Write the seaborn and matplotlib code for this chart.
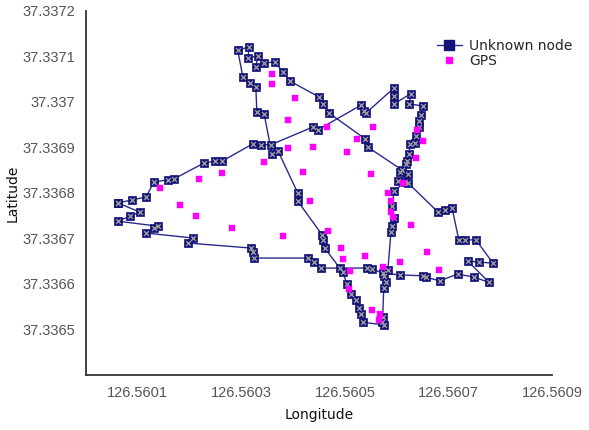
import matplotlib
matplotlib.use("Agg")
import matplotlib.pyplot as plt
import seaborn as sns
import pandas as pd
from matplotlib.lines import Line2D

# Unknown node track, in drawing order (star shaped walk)
node_lon = [126.560062, 126.560089, 126.560116, 126.560131, 126.560158, 126.560170,
            126.560228, 126.560249, 126.560263, 126.560322, 126.560338, 126.560357,
            126.560438, 126.560448, 126.560531, 126.560537, 126.560541, 126.560595,
            126.560595, 126.560595, 126.560627, 126.560624, 126.560651, 126.560647,
            126.560643, 126.560643, 126.560637, 126.560635, 126.560626, 126.560624,
            126.560620, 126.560618, 126.560606, 126.560622, 126.560602, 126.560616,
            126.560595, 126.560591, 126.560595, 126.560591, 126.560589, 126.560583,
            126.560575, 126.560579, 126.560575, 126.560573, 126.560571, 126.560575,
            126.560535, 126.560531, 126.560527, 126.560521, 126.560512, 126.560504,
            126.560496, 126.560461, 126.560458, 126.560456, 126.560409, 126.560409,
            126.560371, 126.560359, 126.560344, 126.560330, 126.560328, 126.560317,
            126.560303, 126.560293, 126.560315, 126.560313, 126.560332, 126.560328,
            126.560344, 126.560365, 126.560380, 126.560394, 126.560450, 126.560458,
            126.560469, 126.560539, 126.560544, 126.560610, 126.560622, 126.560680,
            126.560693, 126.560707, 126.560720, 126.560732, 126.560753, 126.560786,
            126.560759, 126.560737, 126.560778, 126.560749, 126.560718, 126.560683,
            126.560656, 126.560651, 126.560606, 126.560573, 126.560552, 126.560542,
            126.560490, 126.560454, 126.560440, 126.560429, 126.560324, 126.560322,
            126.560319, 126.560197, 126.560207, 126.560116, 126.560131, 126.560139,
            126.560062, 126.560085, 126.560104, 126.560062]
node_lat = [37.336778, 37.336785, 37.336791, 37.336824, 37.336829, 37.336831,
            37.336866, 37.336870, 37.336870, 37.336908, 37.336906, 37.336906,
            37.336945, 37.336939, 37.336993, 37.336980, 37.336976, 37.337031,
            37.337013, 37.336996, 37.337018, 37.336996, 37.336991, 37.336971,
            37.336958, 37.336945, 37.336925, 37.336910, 37.336908, 37.336886,
            37.336870, 37.336864, 37.336846, 37.336842, 37.336826, 37.336824,
            37.336804, 37.336771, 37.336745, 37.336727, 37.336714, 37.336631,
            37.336618, 37.336604, 37.336591, 37.336527, 37.336516, 37.336510,
            37.336516, 37.336534, 37.336547, 37.336565, 37.336578, 37.336600,
            37.336626, 37.336679, 37.336697, 37.336708, 37.336782, 37.336800,
            37.336892, 37.336886, 37.336974, 37.336978, 37.337033, 37.337042,
            37.337055, 37.337114, 37.337121, 37.337097, 37.337101, 37.337077,
            37.337086, 37.337088, 37.337066, 37.337046, 37.337011, 37.336996,
            37.336976, 37.336919, 37.336901, 37.336851, 37.336822, 37.336758,
            37.336763, 37.336767, 37.336697, 37.336697, 37.336697, 37.336646,
            37.336648, 37.336651, 37.336604, 37.336615, 37.336622, 37.336607,
            37.336615, 37.336618, 37.336620, 37.336624, 37.336633, 37.336635,
            37.336635, 37.336635, 37.336648, 37.336657, 37.336657, 37.336670,
            37.336679, 37.336690, 37.336701, 37.336712, 37.336723, 37.336727,
            37.336738, 37.336749, 37.336758, 37.336778]

# GPS fixes
gps_lon = [126.560143, 126.560181, 126.560212, 126.560218, 126.560263, 126.560282,
           126.560344, 126.560359, 126.560359, 126.560380, 126.560390, 126.560390,
           126.560403, 126.560419, 126.560432, 126.560438, 126.560465, 126.560467,
           126.560492, 126.560496, 126.560504, 126.560508, 126.560510, 126.560523,
           126.560539, 126.560550, 126.560554, 126.560552, 126.560568, 126.560566,
           126.560573, 126.560583, 126.560589, 126.560589, 126.560593, 126.560606,
           126.560612, 126.560627, 126.560637, 126.560639, 126.560651, 126.560658,
           126.560682]
gps_lat = [37.336811, 37.336774, 37.336749, 37.336831, 37.336844, 37.336723,
           37.336868, 37.337062, 37.337040, 37.336706, 37.336960, 37.336899,
           37.337009, 37.336846, 37.336782, 37.336901, 37.336945, 37.336716,
           37.336679, 37.336655, 37.336890, 37.336589, 37.336629, 37.336919,
           37.336662, 37.336842, 37.336945, 37.336543, 37.336534, 37.336521,
           37.336637, 37.336800, 37.336782, 37.336758, 37.336747, 37.336648,
           37.336822, 37.336730, 37.336877, 37.336939, 37.336914, 37.336670,
           37.336631]

x_ticks = [126.5600, 126.5601, 126.5602, 126.5603, 126.5604, 126.5605,
           126.5606, 126.5607, 126.5608, 126.5609]
x_labels = ["", "126.5601", "", "126.5603", "", "126.5605", "", "126.5607", "", "126.5609"]
y_ticks = [37.3364, 37.3365, 37.3366, 37.3367, 37.3368, 37.3369, 37.3370, 37.3371, 37.3372]
y_labels = ["", "37.3365", "37.3366", "37.3367", "37.3368", "37.3369", "37.337", "37.3371", "37.3372"]

node_df = pd.DataFrame({"lon": node_lon, "lat": node_lat, "step": range(len(node_lon))})
gps_df = pd.DataFrame({"lon": gps_lon, "lat": gps_lat})

NAVY = "#12127a"
LINE = "#2a2a8c"
MAGENTA = "#ff00ff"

sns.set_style("white")
plt.rcParams["font.family"] = ["DejaVu Sans"]

fig = plt.figure(figsize=(5.89, 4.30), dpi=100)
ax = fig.add_axes([86 / 589, 1 - 375 / 430, (552 - 86) / 589, (375 - 11) / 430])

sns.lineplot(data=node_df, x="lon", y="lat", sort=False, estimator=None,
             color=LINE, linewidth=1.0, ax=ax, zorder=2)
sns.scatterplot(data=node_df, x="lon", y="lat", marker="s", s=40, color=NAVY,
                edgecolor=NAVY, linewidth=0.5, ax=ax, zorder=3)
sns.scatterplot(data=node_df, x="lon", y="lat", marker="x", s=12, color="#9a9a9a",
                linewidth=1.0, ax=ax, zorder=4)
sns.scatterplot(data=gps_df, x="lon", y="lat", marker="s", s=18, color=MAGENTA,
                edgecolor=MAGENTA, linewidth=0.3, ax=ax, zorder=5)

ax.set_xlim(126.5600, 126.5609)
ax.set_ylim(37.3364, 37.3372)
ax.set_xticks(x_ticks)
ax.set_xticklabels(x_labels)
ax.set_yticks(y_ticks)
ax.set_yticklabels(y_labels)
ax.tick_params(direction="in", length=4, width=1, color="black",
               labelcolor="#555555", labelsize=10.5, pad=8)
for lab in ax.get_xticklabels() + ax.get_yticklabels():
    lab.set_family("Liberation Sans")

ax.set_xlabel("Longitude", fontsize=10, color="#111111", labelpad=6)
ax.set_ylabel("Latitude", fontsize=10, color="#111111", labelpad=2)

for side in ["top", "right"]:
    ax.spines[side].set_visible(False)
for side in ["left", "bottom"]:
    ax.spines[side].set_color("#333333")
    ax.spines[side].set_linewidth(1.3)

handles = [
    Line2D([], [], color=LINE, linewidth=1.0, marker="s", markersize=6.5,
           markerfacecolor=NAVY, markeredgecolor=NAVY),
    Line2D([], [], linestyle="none", marker="s", markersize=4.2,
           markerfacecolor=MAGENTA, markeredgecolor=MAGENTA),
]
fig.legend(handles, ["Unknown node", "GPS"], loc="upper left",
           bbox_to_anchor=(430 / 589, 1 - 32 / 430), frameon=False,
           fontsize=10, handlelength=1.8, handletextpad=0.5, labelspacing=0.1,
           borderpad=0)

fig.savefig("out.png", dpi=100)
